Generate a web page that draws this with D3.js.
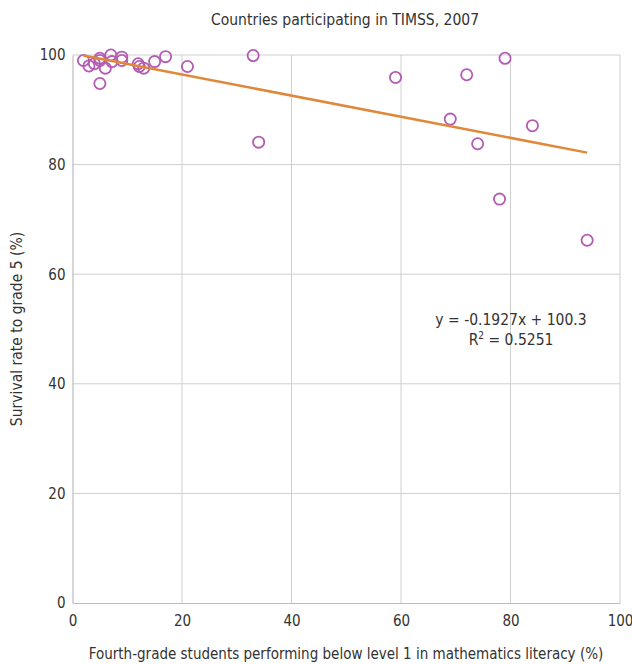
<!DOCTYPE html>
<html>
<head>
<meta charset="utf-8">
<script src="https://cdn.jsdelivr.net/npm/d3@7"></script>
<style>
body { margin: 0; background: #fff; }
text { font-family: "Liberation Sans Narrow", "DejaVu Sans Condensed", "Roboto", sans-serif; fill: #333; }
</style>
</head>
<body>
<svg width="632" height="664"></svg>
<script>
// Fourth-grade students below level 1 (%) vs survival rate to grade 5 (%)
var belowLevel1 = [2, 3, 4, 5, 5, 6, 7, 7.2, 9, 9, 12, 12.2, 13, 15, 17, 21, 5,
    33, 34, 59, 72, 79, 69, 74, 84, 78, 94];
var survival = [99, 98, 98.4, 99.4, 99, 97.6, 100, 98.8, 99.6, 99, 98.4, 97.9, 97.6, 98.8, 99.7, 97.9, 94.8,
    99.9, 84.1, 95.9, 96.4, 99.4, 88.3, 83.8, 87.1, 73.7, 66.2];
var xTicks = [0, 20, 40, 60, 80, 100];
var yTicks = [0, 20, 40, 60, 80, 100];
var slope = -0.1927, intercept = 100.3;
var fitRange = [2, 94];

var svg = d3.select('svg');
var plotLeft = 72.5, plotRight = 620, plotTop = 55, plotBottom = 603;

var x = d3.scaleLinear().domain([0, 100]).range([plotLeft, plotRight]);
var y = d3.scaleLinear().domain([0, 100]).range([plotBottom, plotTop]);

// title
svg.append('text')
    .attr('x', 345).attr('y', 25)
    .attr('text-anchor', 'middle')
    .attr('font-size', '15.5px')
    .text('Countries participating in TIMSS, 2007');

// grid
var grid = svg.append('g');
grid.selectAll('.vg').data(xTicks.slice(1)).enter().append('line')
    .attr('x1', d => x(d)).attr('x2', d => x(d))
    .attr('y1', plotTop).attr('y2', plotBottom)
    .attr('stroke', '#cfcfcf').attr('stroke-width', 1);
grid.selectAll('.hg').data(yTicks.slice(1)).enter().append('line')
    .attr('x1', plotLeft).attr('x2', plotRight)
    .attr('y1', d => y(d)).attr('y2', d => y(d))
    .attr('stroke', '#cfcfcf').attr('stroke-width', 1);

// axes
var xAxis = svg.append('g')
    .attr('transform', 'translate(0,' + plotBottom + ')')
    .call(d3.axisBottom(x).tickValues(xTicks).tickSize(0).tickPadding(10));
var yAxis = svg.append('g')
    .attr('transform', 'translate(' + plotLeft + ',0)')
    .call(d3.axisLeft(y).tickValues(yTicks).tickSize(0).tickPadding(7));
[xAxis, yAxis].forEach(function (a) {
    a.select('.domain').attr('stroke', '#bdbdbd').attr('stroke-width', 1.2);
    a.selectAll('text').attr('font-size', '15px').attr('fill', '#333')
        .style('font-family', '"Liberation Sans Narrow", "DejaVu Sans Condensed", sans-serif');
});
xAxis.selectAll('text').attr('dy', '0.85em');

// axis titles
svg.append('text')
    .attr('x', 346).attr('y', 659)
    .attr('text-anchor', 'middle')
    .attr('font-size', '15px')
    .text('Fourth-grade students performing below level 1 in mathematics literacy (%)');
svg.append('text')
    .attr('transform', 'translate(22,' + ((plotTop + plotBottom) / 2) + ') rotate(-90)')
    .attr('text-anchor', 'middle')
    .attr('font-size', '15.5px')
    .text('Survival rate to grade 5 (%)');

// points
var pts = belowLevel1.map(function (d, i) { return { x: d, y: survival[i] }; });
svg.append('g').selectAll('circle').data(pts).enter().append('circle')
    .attr('cx', d => x(d.x)).attr('cy', d => y(d.y))
    .attr('r', 5.6)
    .attr('fill', 'none')
    .attr('stroke', '#b45cb4')
    .attr('stroke-width', 1.8);

// trend line
svg.append('line')
    .attr('x1', x(fitRange[0])).attr('y1', y(slope * fitRange[0] + intercept))
    .attr('x2', x(fitRange[1])).attr('y2', y(slope * fitRange[1] + intercept))
    .attr('stroke', '#e0883a').attr('stroke-width', 2.5);

// equation
svg.append('text')
    .attr('x', 511).attr('y', 325)
    .attr('text-anchor', 'middle')
    .attr('font-size', '15.5px')
    .text('y = -0.1927x + 100.3');
var r2 = svg.append('text')
    .attr('x', 511).attr('y', 345)
    .attr('text-anchor', 'middle')
    .attr('font-size', '15.5px');
r2.append('tspan').text('R');
r2.append('tspan').attr('font-size', '10px').attr('dy', '-6').text('2');
r2.append('tspan').attr('dy', '6').text(' = 0.5251');
</script>
</body>
</html>
